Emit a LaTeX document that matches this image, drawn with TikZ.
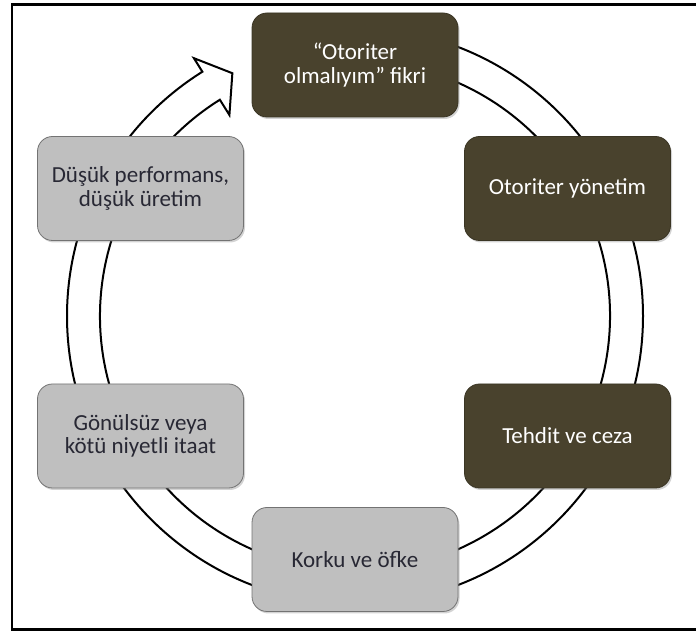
\documentclass[tikz,border=0pt]{standalone}
\usepackage{fontspec}
\setmainfont{Carlito}
\usetikzlibrary{shadows}
\definecolor{cycledark}{RGB}{73,66,45}
\definecolor{cyclelight}{RGB}{191,191,191}
\definecolor{lighttext}{RGB}{40,40,52}
\begin{document}
\begin{tikzpicture}[x=1pt,y=1pt,
  stage/.style={rounded corners=15pt, minimum width=206pt, minimum height=104pt,
    align=center, font=\fontsize{23}{23.5}\selectfont, line width=0.8pt,
    drop shadow={shadow xshift=1.5pt, shadow yshift=-2pt, opacity=0.35}},
  darkstage/.style={stage, fill=cycledark, draw=cycledark!80!black, text=white},
  lightstage/.style={stage, fill=cyclelight, draw=black!55, text=lighttext},
  ring/.style={draw=black, fill=white, line width=2pt, line join=miter},
  frame/.style={draw=black, line width=2.5pt}]
\useasboundingbox (0,0) rectangle (696,631);
% open frame (no right side)
\draw[frame] (696,626.5) -- (12,626.5) -- (12,1.5) -- (696,1.5);
% circular arrow running clockwise round the cycle
\begin{scope}[shift={(355,315)}]
  \draw[ring] (90:288) arc[start angle=90, end angle=-238, radius=288]
    -- (-238:304) -- (-243.2:272) -- (-238:237) -- (-238:255)
    arc[start angle=-238, end angle=90, radius=255] -- cycle;
\end{scope}
% stages
\node[darkstage]  (idea)   at (355,566)     {“Otoriter\\olmalıyım” fikri};
\node[darkstage]  (manage) at (567.5,442.5) {Otoriter yönetim};
\node[darkstage]  (threat) at (567.5,195)   {Tehdit ve ceza};
\node[lightstage] (fear)   at (355,71.5)    {Korku ve öfke};
\node[lightstage] (obey)   at (140.5,195)   {Gönülsüz veya\\kötü niyetli itaat};
\node[lightstage] (low)    at (140.5,442.5) {Düşük performans,\\düşük üretim};
\end{tikzpicture}
\end{document}
